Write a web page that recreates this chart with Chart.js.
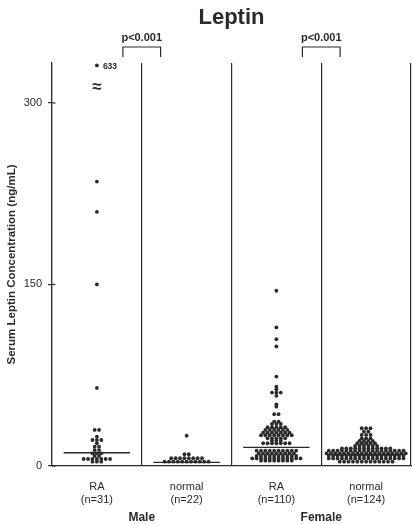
<!DOCTYPE html>
<html>
<head>
<meta charset="utf-8">
<script src="https://cdn.jsdelivr.net/npm/chart.js@4.4.1/dist/chart.umd.min.js"></script>
<style>
  body { margin: 0; background: #fff; }
</style>
</head>
<body>
<canvas id="leptinChart" width="412" height="524"></canvas>
<script>
//data (ng/mL)
var maleRA = [633, 235, 210, 150, 64.5,
  29.8, 29.8, 24.3, 21.5, 21.5, 21.5, 18.8, 16, 16, 13.2, 13.2,
  10.5, 10.5, 10.5, 8.3, 8.3, 5.8, 5.8, 5.8, 5.8, 5.8, 5.8, 5.8,
  3.6, 3.6, 3.6];
var maleNormal = [25, 9.7, 9.7,
  6.4, 6.4, 6.4, 6.4, 6.4, 6.4, 6.4, 6.4,
  3.6, 3.6, 3.6, 3.6, 3.6, 3.6, 3.6, 3.6, 3.6, 3.6, 3.6];
var femaleRA = [144.8, 114.5, 104.8, 98.8, 73.9, 65.6, 63.4, 60.7, 60.7, 60.7, 58, 51, 49,
  42.8, 42.8, 36.7, 36.7, 34.8, 34.8, 34.8,
  32, 32, 32, 32, 32,
  29.8, 29.8, 29.8, 29.8, 29.8, 29.8,
  27.6, 27.6, 27.6, 27.6, 27.6, 27.6, 27.6,
  25.4, 25.4, 25.4, 25.4, 25.4, 25.4, 25.4, 25.4,
  22.9, 22.9, 22.9, 22.9, 22.9,
  20.9, 20.9, 20.9,
  18.8, 18.8, 18.8, 18.8, 18.8, 18.8, 18.8,
  12.7, 12.7, 12.7, 12.7, 12.7, 12.7, 12.7, 12.7, 12.7, 12.7,
  10.5, 10.5, 10.5, 10.5, 10.5, 10.5, 10.5, 10.5, 10.5,
  8.3, 8.3, 8.3, 8.3, 8.3, 8.3, 8.3, 8.3, 8.3, 8.3,
  6.3, 6.3, 6.3, 6.3, 6.3, 6.3, 6.3, 6.3, 6.3, 6.3, 6.3, 6.3,
  4.4, 4.4, 4.4, 4.4, 4.4, 4.4, 4.4, 4.4];
var femaleNormal = [31.2, 31.2, 31.2, 28.4, 28.4, 25.7, 25.7, 25.7, 22.9, 22.9, 22.9,
  20.7, 20.7, 20.7, 20.7, 18.8, 18.8, 18.8, 18.8, 18.8,
  16.6, 16.6, 16.6, 16.6, 16.6, 16.6,
  14.6, 14.6, 14.6, 14.6, 14.6, 14.6, 14.6, 14.6, 14.6, 14.6, 14.6, 14.6,
  12.7, 12.7, 12.7, 12.7, 12.7, 12.7, 12.7, 12.7, 12.7, 12.7, 12.7, 12.7, 12.7, 12.7, 12.7, 12.7, 12.7, 12.7,
  10.5, 10.5, 10.5, 10.5, 10.5, 10.5, 10.5, 10.5, 10.5, 10.5, 10.5, 10.5, 10.5, 10.5, 10.5, 10.5, 10.5, 10.5, 10.5,
  8.5, 8.5, 8.5, 8.5, 8.5, 8.5, 8.5, 8.5, 8.5, 8.5, 8.5, 8.5, 8.5, 8.5, 8.5, 8.5, 8.5, 8.5,
  6.3, 6.3, 6.3, 6.3, 6.3, 6.3, 6.3, 6.3, 6.3, 6.3, 6.3, 6.3, 6.3, 6.3, 6.3, 6.3, 6.3, 6.3,
  3.6, 3.6, 3.6, 3.6, 3.6, 3.6, 3.6, 3.6, 3.6, 3.6, 3.6, 3.6, 3.6];
var medians = [11, 3, 15.4, 9];

var groupLabels = [['RA', '(n=31)'], ['normal', '(n=22)'], ['RA', '(n=110)'], ['normal', '(n=124)']];
var sexLabels = ['Male', 'Female'];
var yTicks = [0, 150, 300];
var pText = 'p<0.001';
var titleText = 'Leptin';
var yTitle = 'Serum Leptin Concentration (ng/mL)';

//look
var FONT = '"Liberation Sans", Arial, sans-serif';
var ink = '#2a2a2a';
var yMax = 333;
var breakCap = 331;   // where off-scale values are drawn
var breakMark = 313;  // the ≈ sign on the axis break
var dotGap = 0.049;
var lineHalf = 0.37;

//beeswarm: stack equal values side by side
function swarm(values, center) {
  var sorted = values.slice().sort(function (a, b) { return a - b; });
  var rows = [], row = [];
  for (var i = 0; i < sorted.length; i++) {
    if (row.length && sorted[i] - row[0] > 1.0) { rows.push(row); row = []; }
    row.push(sorted[i]);
  }
  if (row.length) rows.push(row);
  var pts = [];
  rows.forEach(function (r) {
    r.forEach(function (v, j) {
      pts.push({ x: center + (j - (r.length - 1) / 2) * dotGap, y: Math.min(v, breakCap), raw: v });
    });
  });
  return pts;
}

var groups = [maleRA, maleNormal, femaleRA, femaleNormal];
var datasets = [];
groups.forEach(function (g, i) {
  datasets.push({
    type: 'scatter',
    data: swarm(g, i + 0.5),
    backgroundColor: ink,
    borderWidth: 0,
    pointRadius: 1.9
  });
});
medians.forEach(function (m, i) {
  datasets.push({
    type: 'line',
    data: [{ x: i + 0.5 - lineHalf, y: m }, { x: i + 0.5 + lineHalf, y: m }],
    borderColor: ink,
    borderWidth: 1.4,
    pointRadius: 0
  });
});

// no label-overflow padding, the plot keeps the full width
function noPad(s) { s.paddingLeft = 0; s.paddingRight = 0; s.paddingTop = 0; s.paddingBottom = 0; }

var decor = {
  id: 'decor',
  afterDraw: function (chart) {
    var ctx = chart.ctx, a = chart.chartArea, x = chart.scales.x, y = chart.scales.y;
    ctx.save();
    ctx.fillStyle = ink;
    ctx.strokeStyle = ink;
    ctx.lineWidth = 1.2;
    ctx.textAlign = 'center';
    ctx.textBaseline = 'middle';
    ctx.font = 'bold 22px ' + FONT;
    ctx.fillText(titleText, (a.left + a.right) / 2, 18);

    ctx.font = 'bold 11px ' + FONT;
    [1, 3].forEach(function (b) {
      var l = x.getPixelForValue(b - 0.21), r = x.getPixelForValue(b + 0.21);
      ctx.beginPath();
      ctx.moveTo(l, a.top - 6);
      ctx.lineTo(l, a.top - 16);
      ctx.lineTo(r, a.top - 16);
      ctx.lineTo(r, a.top - 6);
      ctx.stroke();
      ctx.fillText(pText, (l + r) / 2, a.top - 25);
    });

    // ticks cross the axis
    yTicks.forEach(function (t) {
      var py = y.getPixelForValue(t);
      ctx.beginPath();
      ctx.moveTo(a.left, py);
      ctx.lineTo(a.left + 3.5, py);
      ctx.stroke();
    });

    // broken scale for the off-scale value
    var cx = x.getPixelForValue(0.5);
    ctx.font = 'bold 17px ' + FONT;
    ctx.fillText('\u2248', cx, y.getPixelForValue(breakMark));
    ctx.font = 'bold 8.5px ' + FONT;
    ctx.textAlign = 'left';
    chart.data.datasets[0].data.forEach(function (p) {
      if (p.raw > breakCap) ctx.fillText(String(p.raw), x.getPixelForValue(p.x) + 6, y.getPixelForValue(p.y) + 1);
    });
    ctx.restore();
  }
};

var ctxL = document.getElementById('leptinChart').getContext('2d');
var leptinChart = new Chart(ctxL, {
  data: { datasets: datasets },
  options: {
    responsive: false,
    animation: false,
    layout: { autoPadding: false, padding: { top: 63, right: 1, left: 0, bottom: 0 } },
    plugins: { legend: { display: false }, tooltip: { enabled: false }, title: { display: false } },
    scales: {
      x: {
        type: 'linear', position: 'bottom', min: 0, max: 4, weight: 0,
        afterBuildTicks: function (s) { s.ticks = [0.5, 1.5, 2.5, 3.5].map(function (v) { return { value: v }; }); },
        afterFit: function (s) { s.height = 40; noPad(s); },
        grid: { display: false, drawTicks: false },
        border: { display: true, color: ink, width: 1.2 },
        ticks: {
          autoSkip: false, maxRotation: 0, padding: 14, color: ink,
          font: { family: FONT, size: 11 },
          callback: function (v, i) { return groupLabels[i]; }
        }
      },
      xg: {
        type: 'linear', position: 'bottom', min: 0, max: 4, weight: 1,
        afterBuildTicks: function (s) { s.ticks = [1, 3].map(function (v) { return { value: v }; }); },
        afterFit: function (s) { s.height = 18; noPad(s); },
        grid: { display: false, drawTicks: false },
        border: { display: false },
        ticks: {
          autoSkip: false, maxRotation: 0, padding: 4, color: ink,
          font: { family: FONT, size: 12, weight: 'bold' },
          callback: function (v, i) { return sexLabels[i]; }
        }
      },
      xs: {
        type: 'linear', position: 'top', min: 0, max: 4,
        afterBuildTicks: function (s) { s.ticks = [0, 1, 2, 3, 4].map(function (v) { return { value: v }; }); },
        afterFit: function (s) { s.height = 0; noPad(s); },
        grid: { color: ink, lineWidth: 1.2, drawTicks: false },
        border: { display: false },
        ticks: { display: false }
      },
      y: {
        type: 'linear', min: 0, max: yMax,
        afterBuildTicks: function (s) { s.ticks = yTicks.map(function (v) { return { value: v }; }); },
        afterFit: function (s) { s.width = 52; noPad(s); },
        grid: { drawOnChartArea: false, color: ink, lineWidth: 1.2, tickLength: 4 },
        border: { display: true, color: ink, width: 1.2 },
        ticks: { padding: 6, color: ink, font: { family: FONT, size: 11 } },
        title: {
          display: true, text: yTitle, color: ink, padding: { top: 5, bottom: 0 },
          font: { family: FONT, size: 11.5, weight: 'bold' }
        }
      }
    }
  },
  plugins: [decor]
});
</script>
</body>
</html>
